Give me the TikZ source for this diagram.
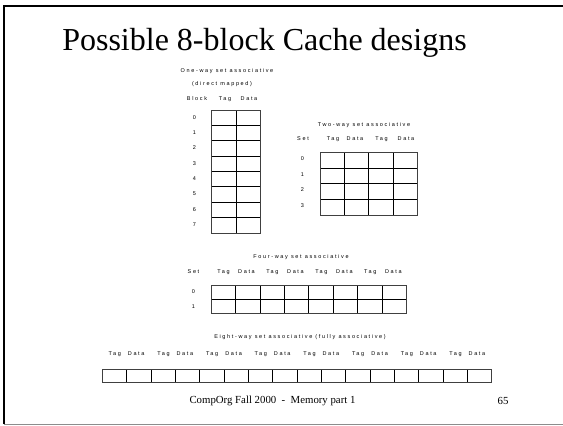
\documentclass[tikz,border=0pt]{standalone}
\usepackage{fontspec}
\setmainfont{Liberation Serif}
\newfontfamily\labfont[LetterSpace=30]{Liberation Sans}
\begin{document}
\begin{tikzpicture}[x=1pt,y=-1pt,
  lab/.style={inner sep=0pt,text height=4pt,text depth=1.2pt,font=\labfont\fontsize{5.5}{6}\selectfont},
  gridline/.style={line width=0.8pt,black},
  outline/.style={line width=0.8pt,black!75}]
\useasboundingbox (0,0) rectangle (563,426);
% frame
\draw[line width=2pt] (4,424) -- (4,6) -- (563,6);
\draw[line width=1pt,black!45] (4,424) -- (563,424);
% title and footer
\node[inner sep=0pt,font=\fontsize{32}{36}\selectfont] (title) at (264.5,43) {Possible 8-block Cache designs};
\node[inner sep=0pt,font=\fontsize{10.8}{12}\selectfont] (foot) at (272.5,401) {CompOrg Fall 2000~~-~~Memory part 1};
\node[inner sep=0pt,font=\fontsize{10.8}{12}\selectfont] (page) at (503,401) {65};

% ---------- one-way ----------
\node[lab] (t1) at (227,71) {One-way set associative};
\node[lab] (t1b) at (222,84) {(direct mapped)};
\node[lab] (h1a) at (197,99) {Block};
\node[lab] (h1b) at (225,99) {Tag};
\node[lab] (h1c) at (249,99) {Data};
\foreach \i in {0,...,7} {
  \node[lab] (r1\i) at (194.5,{117.7+15.375*\i}) {\i};
}
\foreach \i in {1,...,7} {
  \draw[gridline] (211,{110+15.375*\i}) -- (260.5,{110+15.375*\i});
}
\draw[gridline] (236,110) -- (236,233);
\draw[outline] (211,110) rectangle (260.5,233);

% ---------- two-way ----------
\node[lab] (t2) at (364,125) {Two-way set associative};
\node[lab] (h2s) at (303,139.3) {Set};
\node[lab] (h2a) at (333,139.3) {Tag};
\node[lab] (h2b) at (355,139.3) {Data};
\node[lab] (h2c) at (381.5,139.3) {Tag};
\node[lab] (h2d) at (406,139.3) {Data};
\foreach \i in {0,...,3} {
  \node[lab] (r2\i) at (302.5,{159+15.67*\i}) {\i};
}
\foreach \i in {1,...,3} {
  \draw[gridline] (320,{152.3+15.67*\i}) -- (417.7,{152.3+15.67*\i});
  \draw[gridline] ({320+24.425*\i},152.3) -- ({320+24.425*\i},215);
}
\draw[outline] (320,152.3) rectangle (417.7,215);

% ---------- four-way ----------
\node[lab] (t4) at (301,256.7) {Four-way set associative};
\node[lab] (h4s) at (193.5,272.3) {Set};
\foreach \j in {0,...,3} {
  \node[lab] (h4t\j) at ({223.5+48.93*\j},272.3) {Tag};
  \node[lab] (h4d\j) at ({246.5+48.93*\j},272.3) {Data};
}
\node[lab] (r40) at (193.5,292.3) {0};
\node[lab] (r41) at (193.5,306.7) {1};
\draw[gridline] (211,299.3) -- (406.7,299.3);
\foreach \i in {1,...,7} {
  \draw[gridline] ({211+24.4625*\i},285) -- ({211+24.4625*\i},313.7);
}
\draw[outline] (211,285) rectangle (406.7,313.7);

% ---------- eight-way ----------
\node[lab] (t8) at (300,337.3) {Eight-way set associative (fully associative)};
\foreach \j in {0,...,7} {
  \node[lab] (h8t\j) at ({114.8+48.675*\j},354) {Tag};
  \node[lab] (h8d\j) at ({136.2+48.675*\j},354) {Data};
}
\foreach \i in {1,...,15} {
  \draw[gridline] ({102.3+24.3375*\i},369.3) -- ({102.3+24.3375*\i},382.3);
}
\draw[outline] (102.3,369.3) rectangle (491.7,382.3);
\end{tikzpicture}
\end{document}
